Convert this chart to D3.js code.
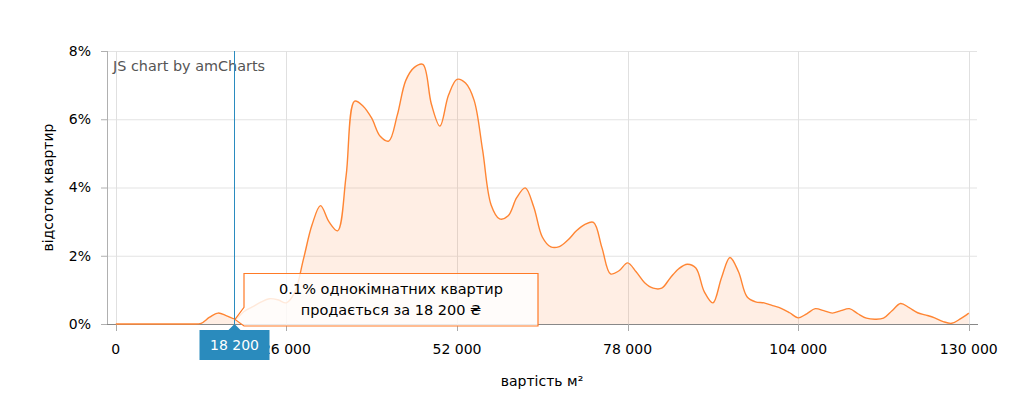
<!DOCTYPE html>
<html><head><meta charset="utf-8">
<script src="https://cdn.jsdelivr.net/npm/d3@7"></script>
<style>
html,body{margin:0;padding:0;background:#fff;}
svg{display:block;font-family:"DejaVu Sans",Verdana,sans-serif;}
</style></head>
<body>
<svg id="chart" width="1015" height="413"></svg>
<script>
// ---- data ----
const binStep = 1300;           // price step between samples (₴ per m²)
const percents = [
  0,0,0,0,0,0,0,0,0,0,
  0.02,0.2,0.32,0.24,0.15,0.36,0.5,0.64,0.74,0.71,
  0.62,0.94,1.9,2.9,3.47,2.99,2.73,4.34,6.53,6.38,
  6.03,5.5,5.36,6.12,7.14,7.52,7.61,6.44,5.8,6.7,
  7.17,7.06,6.56,5.1,3.49,3.08,3.17,3.7,3.99,3.43,
  2.55,2.26,2.27,2.46,2.73,2.92,2.98,2.23,1.47,1.56,
  1.79,1.53,1.21,1.05,1.05,1.35,1.62,1.75,1.64,0.94,
  0.62,1.35,1.95,1.53,0.8,0.65,0.62,0.54,0.46,0.33,
  0.18,0.3,0.45,0.39,0.32,0.39,0.45,0.3,0.17,0.14,
  0.17,0.39,0.6,0.48,0.33,0.26,0.18,0.07,0.02,0.15,
  0.32
];
const prices = percents.map((_, i) => i * binStep);
const xTicks = [0, 26000, 52000, 78000, 104000, 130000];
const yTicks = [0, 2, 4, 6, 8];
const cursorPrice = 18200;
const xTitle = "вартість м²";
const yTitle = "відсоток квартир";
const credit = "JS chart by amCharts";

// ---- layout ----
const L = 107, R = 977, T = 51, B = 324;
const svg = d3.select("#chart");
const fmtNum = d3.formatLocale({decimal: ".", thousands: " ", grouping: [3], currency: ["", ""]}).format(",d");

const x = d3.scaleLinear().domain([-1340, 131250]).range([L, R]);
const y = d3.scaleLinear().domain([0, 8]).range([B, T]);

const data = prices.map((p, i) => ({p, v: percents[i]}));
const curve = d3.curveCatmullRom.alpha(0.5);

// grid
svg.selectAll(".hg").data(yTicks).join("line")
  .attr("x1", L).attr("x2", R)
  .attr("y1", d => y(d) + 0.5).attr("y2", d => y(d) + 0.5)
  .attr("stroke", "#e3e3e3").attr("stroke-width", 1);
svg.selectAll(".vg").data(xTicks).join("line")
  .attr("x1", d => Math.round(x(d)) + 0.5).attr("x2", d => Math.round(x(d)) + 0.5)
  .attr("y1", T).attr("y2", B + 7)
  .attr("stroke", "#e0e0e0").attr("stroke-width", 1);

// area
const area = d3.area().x(d => x(d.p)).y0(y(0)).y1(d => Math.min(y(0), y(d.v))).curve(curve);
const line = d3.line().x(d => x(d.p)).y(d => y(d.v)).curve(curve);
svg.append("path").datum(data).attr("d", area).attr("fill", "#ff8a3d").attr("fill-opacity", 0.14);

// axes lines
svg.append("line").attr("x1", L + 0.5).attr("x2", L + 0.5).attr("y1", T).attr("y2", B)
  .attr("stroke", "#b0b0b0");
svg.selectAll(".yt").data(yTicks).join("line")
  .attr("x1", L - 6).attr("x2", L).attr("y1", d => y(d) + 0.5).attr("y2", d => y(d) + 0.5)
  .attr("stroke", "#b0b0b0");
svg.append("line").attr("x1", L).attr("x2", R + 1).attr("y1", B + 0.5).attr("y2", B + 0.5)
  .attr("stroke", "#888");
svg.selectAll(".xt").data(xTicks).join("line")
  .attr("x1", d => Math.round(x(d)) + 0.5).attr("x2", d => Math.round(x(d)) + 0.5)
  .attr("y1", B).attr("y2", B + 7).attr("stroke", "#aaa");

svg.append("path").datum(data).attr("d", line).attr("fill", "none")
  .attr("stroke", "#ff8533").attr("stroke-width", 1.4);

// tick labels
svg.selectAll(".yl").data(yTicks).join("text")
  .attr("x", L - 16).attr("y", d => y(d)).attr("dy", "0.35em")
  .attr("text-anchor", "end").attr("font-size", 14).attr("fill", "#000")
  .text(d => d + "%");
svg.selectAll(".xl").data(xTicks).join("text")
  .attr("x", d => x(d)).attr("y", B + 25).attr("dy", "0.35em")
  .attr("text-anchor", "middle").attr("font-size", 14).attr("fill", "#000")
  .text(d => fmtNum(d));

// titles
svg.append("text").attr("x", (L + R) / 2).attr("y", 381).attr("dy", "0.35em")
  .attr("text-anchor", "middle").attr("font-size", 14).attr("fill", "#000").text(xTitle);
svg.append("text").attr("transform", `translate(48,${(T + B) / 2}) rotate(-90)`).attr("dy", "0.35em")
  .attr("text-anchor", "middle").attr("font-size", 14).attr("fill", "#000").text(yTitle);

// credit
svg.append("text").attr("x", 113).attr("y", 66).attr("dy", "0.35em")
  .attr("font-size", 14.4).attr("fill", "#555").text(credit);

// cursor
const cx = Math.round(x(cursorPrice)) - 0.5;
svg.append("line").attr("x1", cx).attr("x2", cx).attr("y1", T).attr("y2", B)
  .attr("stroke", "#2a8bbf").attr("stroke-width", 1);
const lbW = 70, lbH = 30;
svg.append("rect").attr("x", cx - lbW / 2).attr("y", B + 6).attr("width", lbW).attr("height", lbH)
  .attr("fill", "#2a8bbd");
svg.append("path").attr("d", `M${cx - 6},${B + 6}L${cx},${B}L${cx + 6},${B + 6}Z`).attr("fill", "#2a8bbd");
svg.append("text").attr("x", cx).attr("y", B + 6 + lbH / 2).attr("dy", "0.35em")
  .attr("text-anchor", "middle").attr("font-size", 14).attr("fill", "#fff").text(fmtNum(cursorPrice));

// balloon
const cIdx = Math.round(cursorPrice / binStep);
const cVal = percents[cIdx];
const tipX = cx + 0.5, tipY = y(cVal) + 0.5;
const bx = cx + 9.5, by = 273.5, bw = 294, bh = 52.5;
svg.append("path")
  .attr("d", `M${bx},${by}H${bx + bw}V${by + bh}H${bx}L${tipX},${tipY}L${bx},${tipY - 12}Z`)
  .attr("fill", "#fff").attr("fill-opacity", 0.82)
  .attr("stroke", "#ff7a26").attr("stroke-width", 1.2);
const tt = svg.append("text").attr("text-anchor", "middle").attr("font-size", 14.5).attr("fill", "#000");
tt.append("tspan").attr("x", bx + bw / 2).attr("y", 289).attr("dy", "0.35em")
  .text(`${cVal.toFixed(1)}% однокімнатних квартир`);
tt.append("tspan").attr("x", bx + bw / 2).attr("y", 310).attr("dy", "0.35em")
  .text(`продається за ${fmtNum(cursorPrice)} ₴`);
</script>
</body></html>
